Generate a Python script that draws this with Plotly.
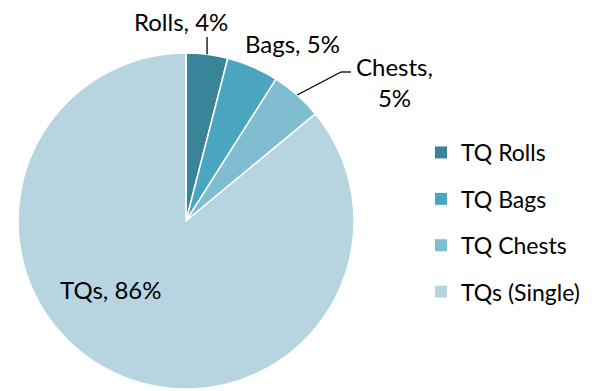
import numpy as np
import plotly.graph_objects as go

categories = ["TQ Rolls", "TQ Bags", "TQ Chests", "TQs (Single)"]
short_labels = ["Rolls", "Bags", "Chests", "TQs"]
values = [4, 5, 5, 86]
colors = ["#3a8499", "#4aa6bf", "#80bdd1", "#b6d5e1"]

W, H = 597, 391
cx, cy, R = 186, 221, 168
FONT = "Lato"


def px(x, y):
    return x / W, 1 - y / H


fig = go.Figure()
fig.add_trace(go.Pie(
    labels=categories, values=values, sort=False, direction="clockwise",
    rotation=0, marker=dict(colors=colors, line=dict(color="white", width=1.5)),
    textinfo="none", hoverinfo="label+percent", showlegend=False,
    domain=dict(x=[(cx - R) / W, (cx + R) / W], y=[1 - (cy + R) / H, 1 - (cy - R) / H]),
))

# legend entries (one per category, so the spacing can match)
for i, (c, col) in enumerate(zip(categories, colors)):
    fig.add_trace(go.Scatter(
        x=[None], y=[None], mode="markers", name=c, legendgroup=f"g{i}",
        marker=dict(symbol="square", size=12, color=col),
    ))

# data-label positions from the slice mid angles
tot = float(np.sum(values))
ends = np.cumsum(values) / tot * 360.0
starts = ends - np.array(values) / tot * 360.0
mids = np.radians((starts + ends) / 2)
edge = [(cx + R * np.sin(a), cy - R * np.cos(a)) for a in mids]

pcts = [f"{round(v / tot * 100)}%" for v in values]
shapes = []
annotations = []

# Rolls label with vertical leader
ex, ey = edge[0]
shapes.append(dict(type="line", xref="paper", yref="paper",
                   x0=px(ex, ey)[0], y0=px(ex, ey)[1], x1=px(ex, 37)[0], y1=px(ex, 37)[1],
                   line=dict(color="black", width=1.3)))
annotations.append(dict(text=f"{short_labels[0]}, {pcts[0]}", x=px(181, 21)[0], y=px(181, 21)[1]))
# Bags label
annotations.append(dict(text=f"{short_labels[1]}, {pcts[1]}", x=px(292, 44)[0], y=px(292, 44)[1]))
# Chests label with elbow leader
ex, ey = edge[2]
pts = [(ex, ey), (341, 72), (351, 72)]
for (x0, y0), (x1, y1) in zip(pts[:-1], pts[1:]):
    shapes.append(dict(type="line", xref="paper", yref="paper",
                       x0=px(x0, y0)[0], y0=px(x0, y0)[1], x1=px(x1, y1)[0], y1=px(x1, y1)[1],
                       line=dict(color="black", width=1.3)))
annotations.append(dict(text=f"{short_labels[2]},<br>{pcts[2]}", x=px(394, 82)[0], y=px(394, 82)[1]))
# TQs label inside
annotations.append(dict(text=f"{short_labels[3]}, {pcts[3]}", x=px(111, 289)[0], y=px(111, 289)[1]))

for a in annotations:
    a.update(xref="paper", yref="paper", showarrow=False, xanchor="center", yanchor="middle",
             font=dict(family=FONT, size=24, color="black"))

fig.update_layout(
    width=W, height=H, margin=dict(l=0, r=0, t=0, b=0),
    paper_bgcolor="white", plot_bgcolor="white",
    xaxis=dict(visible=False), yaxis=dict(visible=False),
    font=dict(family=FONT, size=23, color="black"),
    shapes=shapes, annotations=annotations,
    legend=dict(x=421 / W, y=1 - 131 / H, xanchor="left", yanchor="top",
                font=dict(family=FONT, size=23, color="black"),
                tracegroupgap=13.5, bgcolor="rgba(0,0,0,0)"),
)

fig.write_html("out.html")
